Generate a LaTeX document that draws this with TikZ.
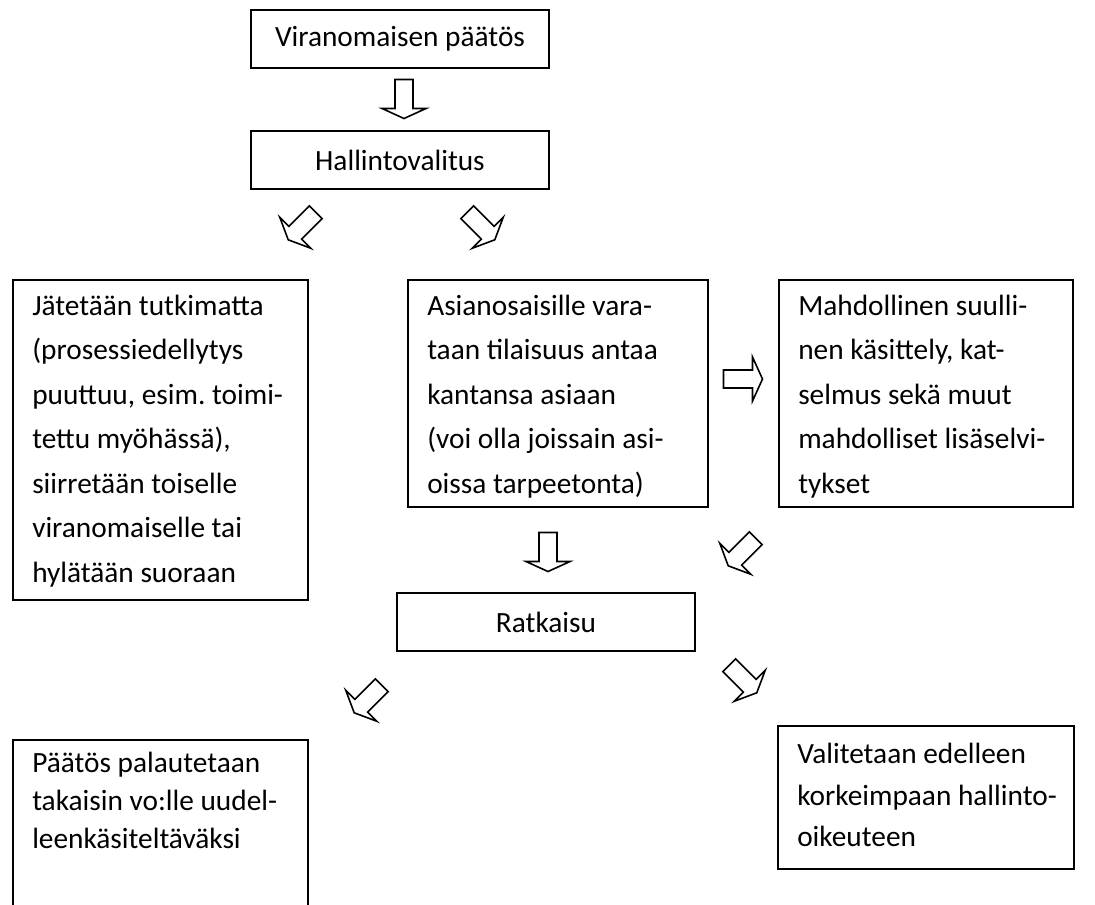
\documentclass[tikz,border=0pt]{standalone}
\usepackage{fontspec}
\setmainfont{Carlito}
\frenchspacing
\usetikzlibrary{positioning}
\newcommand{\blockarrow}[3]{\draw[line width=1.2pt,shift={(#1,#2)},rotate=#3] (-19.5,-9) -- (9.5,-9) -- (9.5,-22) -- (19.5,0) -- (9.5,22) -- (9.5,9) -- (-19.5,9) -- cycle;}
\begin{document}
\begin{tikzpicture}[x=0.75pt,y=-0.75pt,font=\fontsize{22}{28}\selectfont,
  stepbox/.style={draw,line width=1.2pt,minimum width=298*0.75pt,minimum height=58*0.75pt,inner sep=0pt},
  panel/.style 2 args={draw,line width=1.2pt,anchor=north west,minimum width=#1*0.75pt,minimum height=#2*0.75pt,inner sep=0pt},
  note/.style 2 args={anchor=north west,align=flush left,text width=260pt,inner sep=0pt,text height=#1,font=\fontsize{22}{#2}\selectfont}]
\useasboundingbox (0,0) rectangle (1095,904);
\node[stepbox] (decision) at (400,39) {Viranomaisen päätös};
\node[stepbox] (appeal) at (400,160) {Hallintovalitus};
\node[panel={295}{320}] (dismiss) at (12,279) {};
\node[panel={300}{227}] (hearing) at (407,279) {};
\node[panel={294}{227}] (inquiry) at (778,279) {};
\node[stepbox] (ruling) at (546,622) {Ratkaisu};
\node[panel={295}{175}] (returned) at (12,739) {};
\node[panel={296}{143}] (further) at (777,725) {};
\node[note={27pt}{33.4pt}] (dismisstext) at ([xshift=15pt]dismiss.north west) {Jätetään tutkimatta\\(prosessiedellytys\\puuttuu, esim. toimi-\\tettu myöhässä),\\siirretään toiselle\\viranomaiselle tai\\hylätään suoraan};
\node[note={27pt}{33.4pt}] (hearingtext) at ([xshift=15pt]hearing.north west) {Asianosaisille vara-\\taan tilaisuus antaa\\kantansa asiaan\\(voi olla joissain asi-\\oissa tarpeetonta)};
\node[note={27pt}{33.4pt}] (inquirytext) at ([xshift=15pt]inquiry.north west) {Mahdollinen suulli-\\nen käsittely, kat-\\selmus sekä muut\\mahdolliset lisäselvi-\\tykset};
\node[note={25pt}{28.5pt}] (returnedtext) at ([xshift=15pt]returned.north west) {Päätös palautetaan\\takaisin vo:lle uudel-\\leenkäsiteltäväksi};
\node[note={29pt}{31pt}] (furthertext) at ([xshift=15pt]further.north west) {Valitetaan edelleen\\korkeimpaan hallinto-\\oikeuteen};
% outlined block arrows between the steps
\foreach \x/\y/\a in {404/99/-90,302/226/-135,481/226/-45,743/379/0,548/552/-90,742/552/-135,368/699/-135,743/679/-45}{\blockarrow{\x}{\y}{\a}}
\end{tikzpicture}
\end{document}
